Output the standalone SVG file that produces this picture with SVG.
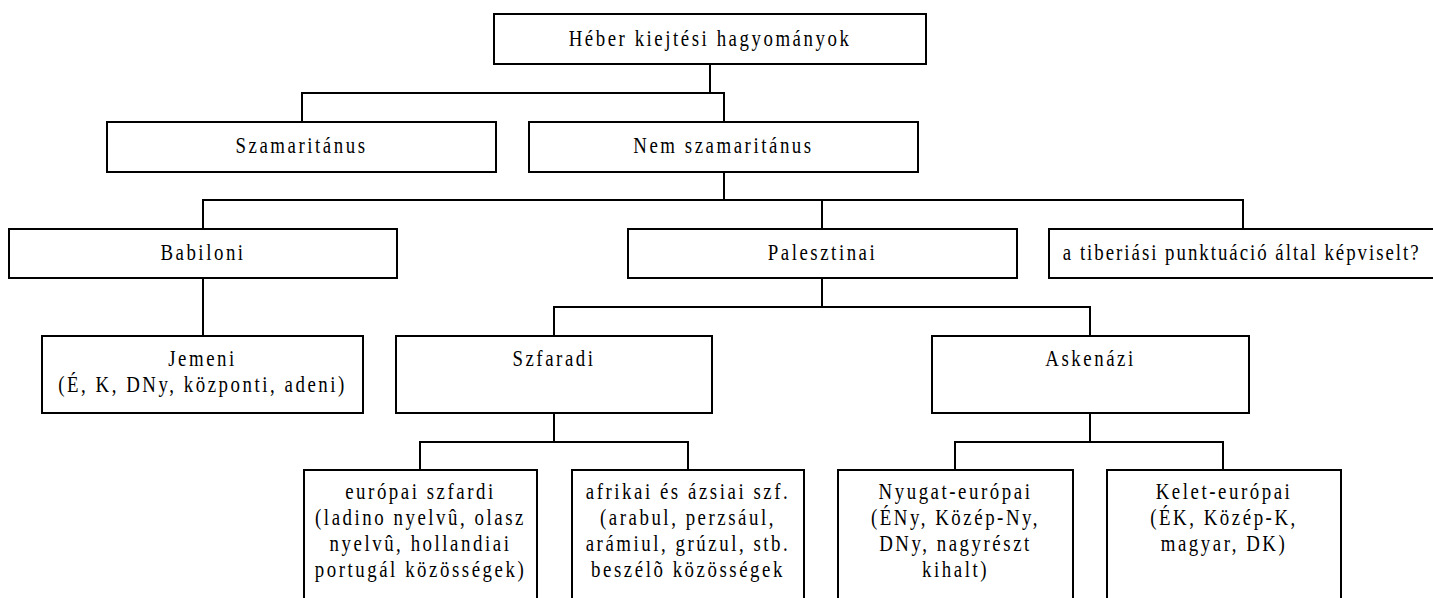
<svg xmlns="http://www.w3.org/2000/svg" width="1433" height="598" viewBox="0 0 1433 598">
<style>
rect{fill:#fff;stroke:#000;stroke-width:2}
.c path{fill:none;stroke:#000;stroke-width:2}
text{font-family:'Liberation Serif','Times New Roman',serif;font-size:23px;letter-spacing:3.1px;text-anchor:middle;fill:#000}
</style>
<rect x="0" y="0" width="1433" height="598" style="stroke:none"/>
<g class="c" id="connectors">
<path d="M710,64V93M302,122V93H724V122"/>
<path d="M724,172V200M203,229V200H1243V229M822,200V229"/>
<path d="M203,278V336"/>
<path d="M822,278V307M554,336V307H1090V336"/>
<path d="M554,413V442M420,470V442H688V470"/>
<path d="M1090,413V442M955,470V442H1223V470"/>
</g>
<g id="root"><rect x="494" y="14" width="432" height="50"/><text transform="translate(710 46) scale(0.82 1)">Héber kiejtési hagyományok</text></g>
<g id="szamaritanus"><rect x="107" y="122" width="389" height="50"/><text transform="translate(301.5 153) scale(0.82 1)">Szamaritánus</text></g>
<g id="nemszamaritanus"><rect x="529" y="122" width="389" height="50"/><text transform="translate(723.5 153) scale(0.82 1)">Nem szamaritánus</text></g>
<g id="babiloni"><rect x="9" y="229" width="388" height="49"/><text transform="translate(203 260) scale(0.82 1)">Babiloni</text></g>
<g id="palesztinai"><rect x="628" y="229" width="389" height="49"/><text transform="translate(822.5 260) scale(0.82 1)">Palesztinai</text></g>
<g id="tiberiasi"><rect x="1049" y="229" width="385" height="49"/><text transform="translate(1242 260) scale(0.82 1)" textLength="437" lengthAdjust="spacing">a tiberiási punktuáció által képviselt?</text></g>
<g id="jemeni"><rect x="42" y="336" width="321" height="77"/><text transform="translate(202.5 366) scale(0.82 1)">Jemeni</text><text transform="translate(202.5 392) scale(0.82 1)">(É, K, DNy, központi, adeni)</text></g>
<g id="szfaradi"><rect x="396" y="336" width="316" height="77"/><text transform="translate(554 366) scale(0.82 1)">Szfaradi</text></g>
<g id="askenazi"><rect x="932" y="336" width="317" height="77"/><text transform="translate(1090.5 366) scale(0.82 1)">Askenázi</text></g>
<g id="europai"><rect x="304" y="470" width="233" height="140"/><text transform="translate(420.5 499) scale(0.82 1)">európai szfardi</text><text transform="translate(420.5 525) scale(0.82 1)">(ladino nyelvû, olasz</text><text transform="translate(420.5 551) scale(0.82 1)">nyelvû, hollandiai</text><text transform="translate(420.5 577) scale(0.82 1)">portugál közösségek)</text></g>
<g id="afrikai"><rect x="572" y="470" width="232" height="140"/><text transform="translate(688 499) scale(0.82 1)">afrikai és ázsiai szf.</text><text transform="translate(688 525) scale(0.82 1)">(arabul, perzsául,</text><text transform="translate(688 551) scale(0.82 1)">arámiul, grúzul, stb.</text><text transform="translate(688 577) scale(0.82 1)">beszélõ közösségek</text></g>
<g id="nyugat"><rect x="838" y="470" width="235" height="140"/><text transform="translate(955.5 499) scale(0.82 1)">Nyugat-európai</text><text transform="translate(955.5 525) scale(0.82 1)">(ÉNy, Közép-Ny,</text><text transform="translate(955.5 551) scale(0.82 1)">DNy, nagyrészt</text><text transform="translate(955.5 577) scale(0.82 1)">kihalt)</text></g>
<g id="kelet"><rect x="1107" y="470" width="234" height="140"/><text transform="translate(1224 499) scale(0.82 1)">Kelet-európai</text><text transform="translate(1224 525) scale(0.82 1)">(ÉK, Közép-K,</text><text transform="translate(1224 551) scale(0.82 1)">magyar, DK)</text></g>
</svg>
